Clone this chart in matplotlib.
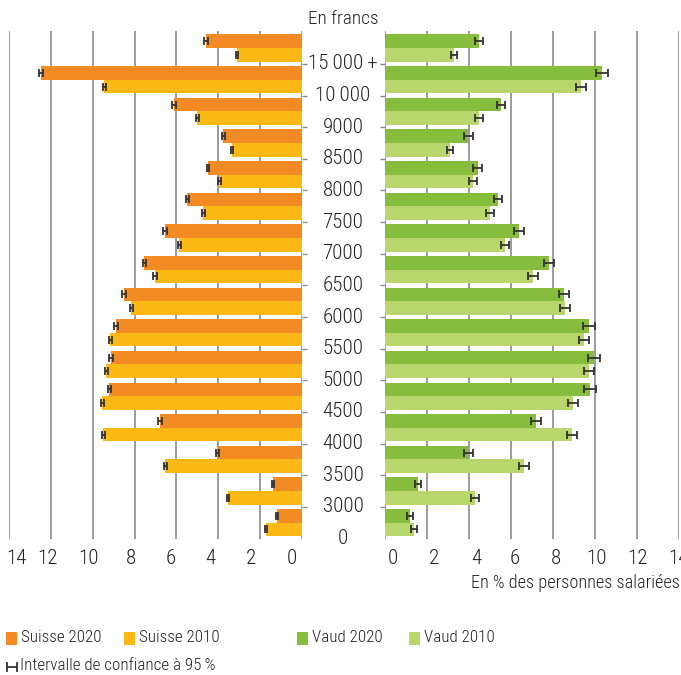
import matplotlib
matplotlib.use("Agg")
import matplotlib.pyplot as plt
from matplotlib import font_manager as fm
from matplotlib.patches import Rectangle
from matplotlib.lines import Line2D
from matplotlib.transforms import ScaledTranslation, blended_transform_factory

# find a condensed face if one is installed
entries = fm.fontManager.ttflist
names = {f.name for f in entries}
font_family, font_stretch = 'Liberation Sans', 'normal'
for cand in ['Liberation Sans Narrow', 'Roboto Condensed', 'Open Sans Condensed', 'Noto Sans Condensed']:
    if cand in names:
        font_family = cand
        break
else:
    for f in entries:
        if f.name in ('DejaVu Sans', 'Noto Sans', 'Roboto', 'Open Sans') and 'condensed' in str(f.stretch):
            font_family, font_stretch = f.name, 'condensed'
            break
plt.rcParams['font.family'] = [font_family, 'DejaVu Sans']
plt.rcParams['font.stretch'] = font_stretch
plt.rcParams['font.weight'] = 'light'

# salary classes, bottom -> top (labels sit on the class boundaries)
boundary_labels = ['0', '3000', '3500', '4000', '4500', '5000', '5500', '6000', '6500',
                   '7000', '7500', '8000', '8500', '9000', '10\u2009000', '15\u2009000\u2009+']

suisse_2020 = [1.19, 1.38, 4.04, 6.78, 9.21, 9.12, 8.88, 8.50, 7.54, 6.54, 5.49, 4.49, 3.77, 6.11, 12.46, 4.58]
suisse_2010 = [1.72, 3.53, 6.54, 9.50, 9.54, 9.35, 9.16, 8.16, 7.02, 5.87, 4.72, 3.95, 3.34, 5.01, 9.45, 3.09]
vaud_2020 = [1.19, 1.57, 3.97, 7.19, 9.76, 9.95, 9.71, 8.52, 7.81, 6.38, 5.38, 4.41, 3.97, 5.52, 10.33, 4.48]
vaud_2010 = [1.38, 4.29, 6.62, 8.90, 8.95, 9.71, 9.48, 8.57, 7.05, 5.71, 5.00, 4.19, 3.10, 4.48, 9.33, 3.29]

suisse_2020_ci = [0.05, 0.05, 0.07, 0.08, 0.08, 0.08, 0.08, 0.08, 0.08, 0.08, 0.07, 0.07, 0.07, 0.08, 0.10, 0.08]
suisse_2010_ci = [0.05, 0.05, 0.07, 0.08, 0.08, 0.08, 0.08, 0.08, 0.08, 0.07, 0.07, 0.06, 0.05, 0.07, 0.08, 0.05]
vaud_2020_ci = [0.13, 0.13, 0.20, 0.25, 0.30, 0.30, 0.30, 0.25, 0.25, 0.22, 0.20, 0.20, 0.20, 0.20, 0.27, 0.20]
vaud_2010_ci = [0.13, 0.20, 0.22, 0.25, 0.25, 0.25, 0.25, 0.22, 0.22, 0.20, 0.18, 0.17, 0.15, 0.18, 0.25, 0.15]

x_ticks = [0, 2, 4, 6, 8, 10, 12, 14]

c_orange = '#F28B24'
c_yellow = '#FCB815'
c_dgreen = '#87BD3C'
c_lgreen = '#B8D66B'
c_grid = '#8a8a8a'
c_err = '#333333'
c_txt = '#222222'

W, H = 681, 675
fig = plt.figure(figsize=(W / 100, H / 100), dpi=100)

# scale text so that widths match the original (condensed) typeface
renderer = fig.canvas.get_renderer()
probe = fig.text(0, 0, 'En % des personnes salariées', fontsize=13.5)
k = min(1.1, 210 / probe.get_window_extent(renderer).width)
probe.remove()
fs_tick = 15.5 * k
fs_note = 13.5 * k
fs_leg = 12.6 * k

ax1 = fig.add_axes([9 / W, 1 - 538.5 / H, 293 / W, 507.5 / H])
ax2 = fig.add_axes([385 / W, 1 - 538.5 / H, 294 / W, 507.5 / H])

n = len(suisse_2020)
y_new = [i + 0.715 for i in range(n)]
y_old = [i + 0.285 for i in range(n)]
bh = 0.43

err_kw = dict(fmt='none', ecolor=c_err, elinewidth=1.3, capsize=2.8, capthick=1.3, zorder=4)

ax1.barh(y_new, suisse_2020, height=bh, color=c_orange, zorder=2)
ax1.barh(y_old, suisse_2010, height=bh, color=c_yellow, zorder=2)
ax1.errorbar(suisse_2020, y_new, xerr=suisse_2020_ci, **err_kw)
ax1.errorbar(suisse_2010, y_old, xerr=suisse_2010_ci, **err_kw)

ax2.barh(y_new, vaud_2020, height=bh, color=c_dgreen, zorder=2)
ax2.barh(y_old, vaud_2010, height=bh, color=c_lgreen, zorder=2)
ax2.errorbar(vaud_2020, y_new, xerr=vaud_2020_ci, **err_kw)
ax2.errorbar(vaud_2010, y_old, xerr=vaud_2010_ci, **err_kw)

ax1.set_xlim(14, 0)
ax2.set_xlim(0, 14)
for ax in (ax1, ax2):
    ax.set_ylim(0, n + 0.04)
    for v in x_ticks:
        ax.axvline(v, color=c_grid, lw=1.2, zorder=0)
    for s in ax.spines.values():
        s.set_visible(False)
    ax.set_xticks(x_ticks)
    ax.set_xticklabels([str(v) for v in x_ticks])
    ax.tick_params(axis='x', length=0, pad=7.5, labelsize=fs_tick, colors=c_txt)
    ax.set_yticks(range(1, n))
    ax.set_yticklabels([])
    ax.tick_params(axis='y', length=3.5, width=1, colors=c_grid, direction='out')
    ax.set_facecolor('none')

ax1.yaxis.tick_right()
ax2.yaxis.tick_left()

# small label shifts as in the original layout (pixels)
left_shift = {0: -10, 2: -9, 4: -8, 6: -6, 8: -4, 10: -4, 12: -3, 14: 7}
right_shift = {0: 8, 2: 7, 4: 7, 6: 4, 8: 3, 10: 2, 12: 0, 14: -1}
for lbl, v in zip(ax1.get_xticklabels(), x_ticks):
    lbl.set_transform(lbl.get_transform() + ScaledTranslation(left_shift[v] / 100, 0, fig.dpi_scale_trans))
for lbl, v in zip(ax2.get_xticklabels(), x_ticks):
    lbl.set_transform(lbl.get_transform() + ScaledTranslation(right_shift[v] / 100, 0, fig.dpi_scale_trans))

# class boundary labels in the middle
tr = blended_transform_factory(fig.transFigure, ax2.transData)
for i, lab in enumerate(boundary_labels):
    ax2.text(343 / W, i, lab, transform=tr, ha='center', va='center',
             fontsize=fs_tick, color=c_txt, clip_on=False)

fig.text(343 / W, 1 - 19 / H, 'En francs', ha='center', va='center', fontsize=fs_note * 1.05, color=c_txt)
fig.text(680 / W, 1 - 583 / H, 'En % des personnes salariées', ha='right', va='center',
         fontsize=fs_note, color=c_txt)

# legend
leg_items = [(6, 'Suisse 2020', c_orange), (124, 'Suisse 2010', c_yellow),
             (297, 'Vaud 2020', c_dgreen), (409, 'Vaud 2010', c_lgreen)]
for x0, txt, col in leg_items:
    fig.add_artist(Rectangle((x0 / W, 1 - 645 / H), 11 / W, 13 / H, transform=fig.transFigure,
                             facecolor=col, edgecolor='none'))
    fig.text((x0 + 15) / W, 1 - 638 / H, txt, ha='left', va='center', fontsize=fs_leg, color=c_txt)

ye = 1 - 667 / H
fig.add_artist(Line2D([7 / W, 17 / W], [ye, ye], transform=fig.transFigure, color=c_err, lw=1.3))
for xe in (7, 17):
    fig.add_artist(Line2D([xe / W, xe / W], [ye - 4 / H, ye + 4 / H], transform=fig.transFigure,
                          color=c_err, lw=1.3))
fig.text(20.5 / W, 1 - 665 / H, 'Intervalle de confiance à 95\u2009%', ha='left', va='center',
         fontsize=fs_leg, color=c_txt)

fig.savefig('out.png', dpi=100, facecolor='white')
